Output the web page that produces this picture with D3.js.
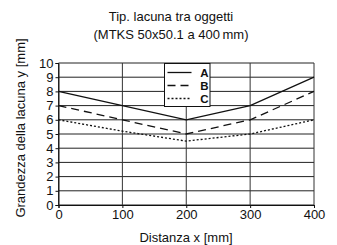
<!DOCTYPE html>
<html lang="en">
<head>
<meta charset="utf-8">
<title>Tip. lacuna tra oggetti</title>
<script src="https://d3js.org/d3.v7.min.js"></script>
<style>
  body { margin: 0; background: #fff; }
  svg text { font-family: "Liberation Sans Narrow", "Arial Narrow", "Liberation Sans", sans-serif; fill: #111; }
</style>
</head>
<body>
<div id="chart"></div>
<script>
// Data
var distances = [0, 100, 200, 300, 400];
var gapA = [8, 7, 6, 7, 9];
var gapB = [7, 6, 5, 6, 8];
var gapC = [6, 5.2, 4.5, 5, 6];
var seriesNames = ["A", "B", "C"];
var xTicks = [0, 100, 200, 300, 400];
var yTicks = [0, 1, 2, 3, 4, 5, 6, 7, 8, 9, 10];

var width = 337, height = 245;
var margin = { top: 63, right: 23, bottom: 40, left: 58.5 };

var svg = d3.select("#chart").append("svg")
    .attr("width", width)
    .attr("height", height);

var x = d3.scaleLinear().domain([0, 400]).range([margin.left, width - margin.right]);
var y = d3.scaleLinear().domain([0, 10]).range([height - margin.bottom, margin.top]);

// Gridlines
svg.append("g")
    .selectAll("line")
    .data(yTicks)
    .join("line")
    .attr("x1", x(0)).attr("x2", x(400))
    .attr("y1", function(d) { return y(d); })
    .attr("y2", function(d) { return y(d); })
    .attr("stroke", "#222").attr("stroke-width", 1);

svg.append("g")
    .selectAll("line")
    .data(xTicks)
    .join("line")
    .attr("y1", y(0)).attr("y2", y(10))
    .attr("x1", function(d) { return x(d); })
    .attr("x2", function(d) { return x(d); })
    .attr("stroke", "#333").attr("stroke-width", 1);

// Axes
var yAxis = svg.append("g")
    .attr("transform", "translate(" + x(0) + ",0)")
    .call(d3.axisLeft(y).tickValues(yTicks).tickSize(3).tickPadding(2));
var xAxis = svg.append("g")
    .attr("transform", "translate(0," + y(0) + ")")
    .call(d3.axisBottom(x).tickValues(xTicks).tickSize(3).tickPadding(2));
[xAxis, yAxis].forEach(function(a) {
    a.select(".domain").attr("stroke", "#111");
    a.selectAll(".tick line").attr("stroke", "#111");
    a.selectAll("text").style("font-size", "13px");
});

// Series lines
var series = [
    { name: seriesNames[0], values: gapA, dash: null, width: 1.3 },
    { name: seriesNames[1], values: gapB, dash: "8,5", width: 1.3 },
    { name: seriesNames[2], values: gapC, dash: "2,2", width: 1.3 }
];
var line = d3.line()
    .x(function(d, i) { return x(distances[i]); })
    .y(function(d) { return y(d); });

svg.append("g")
    .selectAll("path")
    .data(series)
    .join("path")
    .attr("d", function(d) { return line(d.values); })
    .attr("fill", "none")
    .attr("stroke", "#111")
    .attr("stroke-width", function(d) { return d.width; })
    .attr("stroke-dasharray", function(d) { return d.dash; });

// Legend
var legend = svg.append("g").attr("transform", "translate(164.5,63.5)");
legend.append("rect")
    .attr("width", 45.5).attr("height", 43)
    .attr("fill", "#fff").attr("stroke", "#111");
var rows = legend.selectAll("g")
    .data(series)
    .join("g")
    .attr("transform", function(d, i) { return "translate(0," + (9 + i * 13) + ")"; });
rows.append("line")
    .attr("x1", 3).attr("x2", 27)
    .attr("stroke", "#111").attr("stroke-width", 1.3)
    .attr("stroke-dasharray", function(d) { return d.dash; });
rows.append("text")
    .attr("x", 40).attr("y", 4.2)
    .attr("text-anchor", "middle")
    .style("font-size", "11.5px").style("font-weight", "bold")
    .text(function(d) { return d.name; });

// Titles
svg.append("text").attr("x", 171).attr("y", 21)
    .attr("text-anchor", "middle").style("font-size", "13px")
    .text("Tip. lacuna tra oggetti");
svg.append("text").attr("x", 171).attr("y", 39)
    .attr("text-anchor", "middle").style("font-size", "13px")
    .text("(MTKS 50x50.1 a 400\u2009mm)");
svg.append("text").attr("x", 186).attr("y", 242)
    .attr("text-anchor", "middle").style("font-size", "13px")
    .text("Distanza x [mm]");
svg.append("text")
    .attr("transform", "translate(25,128) rotate(-90)")
    .attr("text-anchor", "middle").style("font-size", "13px")
    .text("Grandezza della lacuna y [mm]");
</script>
</body>
</html>
